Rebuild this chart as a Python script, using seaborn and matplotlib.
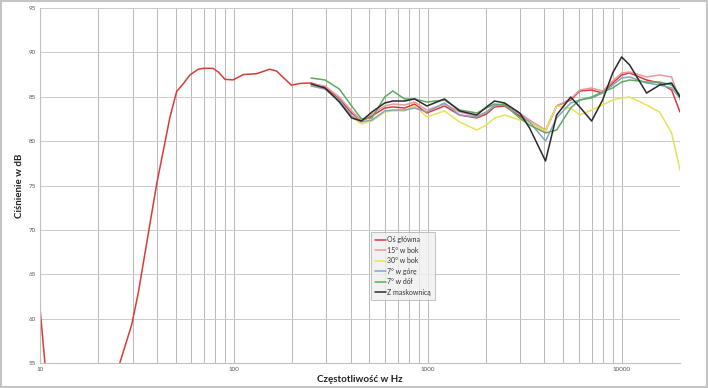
import numpy as np
import pandas as pd
import matplotlib
matplotlib.use("Agg")
import matplotlib.pyplot as plt
import seaborn as sns
from matplotlib.ticker import FixedLocator, LogLocator, NullFormatter
from matplotlib.patches import Rectangle

# ---------------- data ----------------
series_names = ["Oś główna", "15° w bok", "30° w bok", "7° w górę", "7° w dół", "Z maskownicą"]
series_colors = ["#d93b35", "#e79aa0", "#e6e25a", "#86a2c6", "#5dac5d", "#2a2a2a"]

# main axis: low-frequency part (below 55 dB values are off-scale estimates)
freq_main_low = [10, 10.6, 14, 20, 24, 25.8, 29.7, 32.1, 40, 46.8, 50.7, 55, 59.3, 65.5,
                 69.5, 78, 83, 90, 99, 112, 131, 153, 166, 198, 219]
db_main_low = [61.2, 55.0, 50.0, 48.0, 52.0, 55.0, 59.3, 62.85, 75.2, 82.7, 85.6, 86.5, 87.45, 88.1,
               88.2, 88.2, 87.8, 86.96, 86.9, 87.5, 87.6, 88.1, 87.9, 86.3, 86.5]

freq_common = [250, 295, 350, 405, 455, 515, 600, 660, 760, 855, 990, 1220, 1460, 1790, 2010,
               2210, 2490, 2980, 3350, 4050, 4620, 5460, 6080, 7000, 7980, 8990, 10000, 11000,
               13450, 15700, 18100, 20000]

db_main = [86.55, 86.10, 84.75, 83.17, 82.27, 82.83, 83.73, 83.85, 83.73, 84.18, 83.17, 83.96,
           82.94, 82.61, 83.06, 83.85, 83.96, 82.83, 82.16, 81.14, 83.96, 84.63, 85.65, 85.76,
           85.42, 86.55, 87.45, 87.68, 86.89, 86.55, 85.76, 83.28]
db_15_side = [86.44, 86.21, 84.97, 83.40, 82.27, 83.06, 83.96, 84.18, 84.07, 84.41, 83.51, 84.18,
              83.28, 82.83, 83.28, 84.07, 84.18, 83.17, 82.38, 81.25, 83.96, 84.75, 85.76, 85.99,
              85.65, 86.78, 87.68, 87.79, 87.23, 87.45, 87.23, 84.63]
db_30_side = [86.32, 85.87, 84.52, 82.72, 81.93, 82.27, 83.28, 83.40, 83.40, 83.96, 82.72, 83.40,
              82.16, 81.25, 81.82, 82.61, 82.94, 82.38, 82.16, 81.14, 83.96, 83.73, 82.94, 83.51,
              84.07, 84.63, 84.86, 84.97, 84.07, 83.28, 80.92, 76.75]
db_7_up = [86.21, 85.87, 84.63, 82.83, 82.16, 82.38, 83.40, 83.51, 83.51, 83.73, 83.28, 84.30,
           82.94, 82.72, 83.28, 83.96, 84.18, 83.06, 82.16, 80.01, 82.61, 84.30, 84.63, 84.86,
           85.42, 86.32, 87.11, 87.23, 86.55, 86.32, 85.99, 84.86]
db_7_down = [87.11, 86.89, 85.87, 83.96, 82.49, 82.61, 84.97, 85.65, 84.75, 84.75, 84.41, 84.63,
             83.51, 83.17, 83.73, 84.18, 84.07, 82.61, 81.82, 80.92, 81.25, 83.73, 84.63, 84.97,
             85.54, 85.99, 86.66, 86.89, 86.66, 86.66, 86.32, 85.20]
db_grille = [86.44, 85.99, 84.41, 82.61, 82.27, 83.28, 84.30, 84.52, 84.52, 84.75, 83.96, 84.75,
             83.40, 82.94, 83.85, 84.52, 84.30, 83.17, 81.48, 77.76, 82.94, 84.97, 83.85, 82.27,
             84.63, 87.68, 89.48, 88.58, 85.42, 86.32, 86.55, 84.97]

x_tick_values = [10, 100, 1000, 10000]
x_tick_labels = ["10", "100", "1000", "10000"]
y_tick_values = [55, 60, 65, 70, 75, 80, 85, 90, 95]

# ---------------- build table ----------------
frames = [pd.DataFrame({"freq": freq_main_low + freq_common,
                        "db": db_main_low + db_main,
                        "series": series_names[0]})]
for name, vals in zip(series_names[1:], [db_15_side, db_30_side, db_7_up, db_7_down, db_grille]):
    frames.append(pd.DataFrame({"freq": freq_common, "db": vals, "series": name}))
df = pd.concat(frames, ignore_index=True)

# ---------------- plot ----------------
sns.set_theme(style="white")
plt.rcParams["font.family"] = ["Lato", "DejaVu Sans"]

fig = plt.figure(figsize=(7.08, 3.88), dpi=100)
ax = fig.add_axes([40 / 708, 25 / 388, 640 / 708, 355 / 388])

ax.set_xscale("log")
sns.lineplot(data=df, x="freq", y="db", hue="series", hue_order=series_names,
             palette=dict(zip(series_names, series_colors)), estimator=None, sort=False,
             linewidth=1.1, ax=ax)

ax.set_xlim(10, 20000)
ax.set_ylim(55, 95)
ax.xaxis.set_major_locator(FixedLocator(x_tick_values))
ax.set_xticklabels(x_tick_labels)
ax.xaxis.set_minor_locator(LogLocator(base=10, subs=range(2, 10)))
ax.xaxis.set_minor_formatter(NullFormatter())
ax.set_yticks(y_tick_values)
ax.set_yticklabels([str(v) for v in y_tick_values])
ax.tick_params(axis="both", which="both", length=0, labelsize=4.5, labelcolor="#555555", pad=3)

ax.grid(True, axis="x", which="both", color="#b8b8b8", linewidth=0.7)
ax.grid(True, axis="y", which="major", color="#cccccc", linewidth=0.7)
for s in ["top", "right"]:
    ax.spines[s].set_visible(False)
for s in ["left", "bottom"]:
    ax.spines[s].set_color("#c0c0c0")
    ax.spines[s].set_linewidth(0.8)

ax.set_xlabel("Częstotliwość w Hz", fontsize=7, fontweight="bold", color="#222222", labelpad=2)
ax.set_ylabel("Ciśnienie w dB", fontsize=7, fontweight="bold", color="#222222", labelpad=3)

handles, labels = ax.get_legend_handles_labels()
leg = ax.legend(handles, labels, loc="upper left", bbox_to_anchor=(0.512, 0.378),
                fontsize=5, frameon=True, fancybox=False, facecolor="#efefef",
                edgecolor="#a8a8a8", handlelength=1.5, borderpad=0.6, labelspacing=0.5,
                handletextpad=0.2)
leg.get_frame().set_linewidth(0.6)
for t in leg.get_texts():
    t.set_color("#333333")

fig.patches.append(Rectangle((0.002, 0.003), 0.996, 0.994, transform=fig.transFigure,
                             fill=False, edgecolor="#c4c4c4", linewidth=1.5))

fig.savefig("out.png", dpi=100)
